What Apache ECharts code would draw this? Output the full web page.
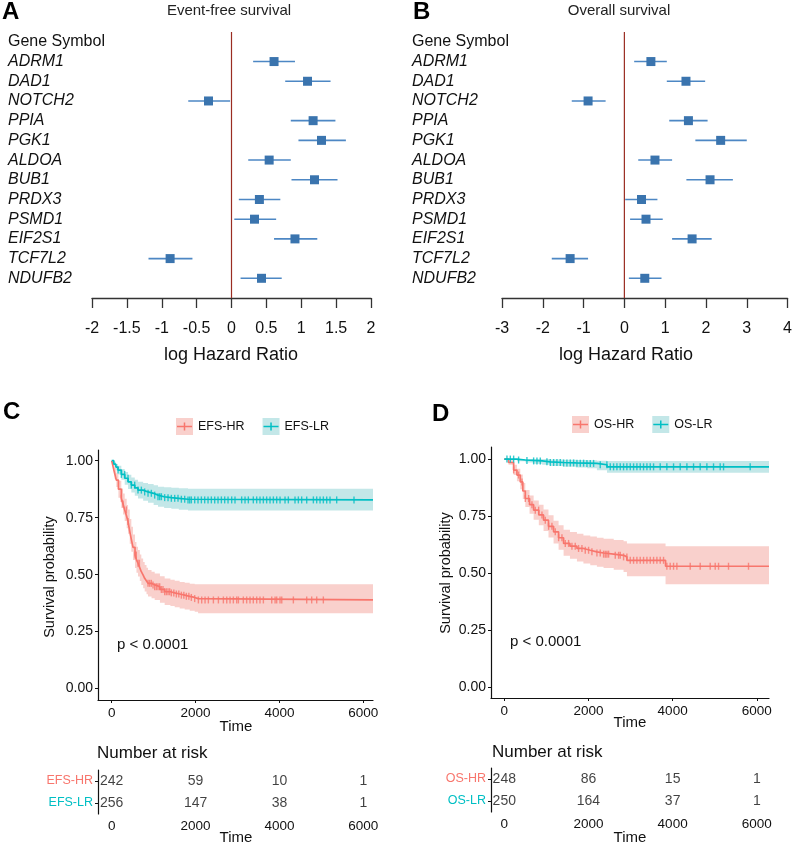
<!DOCTYPE html>
<html><head><meta charset="utf-8">
<script src="https://cdn.jsdelivr.net/npm/echarts@6/dist/echarts.min.js"></script>
<style>html,body{margin:0;padding:0;background:#fff}#c{width:795px;height:847px}</style>
</head><body><div id="c"></div>
<script>
// ---------- Forest plot data ----------
const genes = ['ADRM1','DAD1','NOTCH2','PPIA','PGK1','ALDOA','BUB1','PRDX3','PSMD1','EIF2S1','TCF7L2','NDUFB2'];
const efsLogHR = [0.61,1.09,-0.33,1.17,1.29,0.54,1.19,0.40,0.33,0.91,-0.88,0.43];
const efsLow   = [0.31,0.77,-0.62,0.85,0.96,0.24,0.86,0.105,0.04,0.61,-1.19,0.13];
const efsHigh  = [0.91,1.42,-0.02,1.49,1.64,0.85,1.52,0.70,0.64,1.23,-0.56,0.72];
const osLogHR  = [0.65,1.51,-0.89,1.57,2.36,0.75,2.10,0.42,0.53,1.66,-1.33,0.50];
const osLow    = [0.24,1.04,-1.29,1.10,1.74,0.34,1.52,0.02,0.14,1.17,-1.78,0.11];
const osHigh   = [1.04,1.98,-0.46,2.04,3.00,1.17,2.66,0.81,0.94,2.14,-0.89,0.91];

// ---------- KM: EFS ----------
const efsEnd = 6231;
const efsHRTime = [0,31,70,110,160,229,270,310,357,389,430,468,508,556,590,627,670,706,750,786,830,866,950,1025,1150,1263,1400,1502,1620,1740,1860,1979,2060];
const efsHRSurv = [1,0.975,0.945,0.915,0.875,0.835,0.81,0.784,0.755,0.733,0.69,0.655,0.62,0.586,0.565,0.55,0.53,0.513,0.498,0.484,0.472,0.462,0.455,0.447,0.435,0.425,0.42,0.415,0.41,0.405,0.40,0.395,0.389];
const efsHRLow  = [1,0.96,0.92,0.885,0.838,0.792,0.764,0.735,0.704,0.68,0.636,0.60,0.564,0.529,0.508,0.492,0.472,0.455,0.44,0.426,0.414,0.404,0.397,0.389,0.377,0.367,0.362,0.357,0.352,0.347,0.342,0.337,0.331];
const efsHRHigh = [1,0.99,0.97,0.945,0.912,0.878,0.856,0.833,0.806,0.786,0.744,0.71,0.676,0.643,0.622,0.608,0.588,0.571,0.556,0.542,0.53,0.52,0.513,0.505,0.493,0.483,0.478,0.473,0.468,0.464,0.46,0.458,0.458];
const efsHRCens = [230,270,349,389,560,587,627,660,866,905,945,985,1025,1065,1104,1144,1184,1223,1263,1303,1343,1382,1422,1481,1541,1600,1661,1720,1780,1840,1899,1979,2067,2146,2226,2305,2425,2544,2663,2743,2822,2901,2980,3021,3139,3218,3298,3377,3457,3536,3617,3816,3896,3934,4014,4055,4332,4650,4769,4888,5047];
const efsLRTime = [0,50,100,150,230,310,390,468,550,627,750,866,1000,1104,1250,1422,1600,1820];
const efsLRSurv = [1,0.985,0.972,0.959,0.94,0.923,0.907,0.893,0.881,0.871,0.863,0.857,0.849,0.842,0.838,0.835,0.831,0.828];
const efsLRLow  = [1,0.975,0.958,0.94,0.916,0.895,0.876,0.86,0.846,0.834,0.824,0.816,0.806,0.798,0.793,0.789,0.785,0.781];
const efsLRHigh = [1,0.995,0.986,0.978,0.964,0.951,0.938,0.926,0.916,0.908,0.902,0.898,0.892,0.886,0.883,0.881,0.879,0.877];
const efsLRCens = [150,230,309,389,468,548,627,707,786,866,945,1025,1104,1144,1184,1263,1343,1422,1502,1581,1661,1740,1820,1860,1899,1979,2058,2138,2217,2297,2376,2456,2535,2615,2694,2774,2861,2940,3099,3179,3258,3377,3457,3536,3616,3695,3775,3855,3934,4014,4133,4212,4371,4451,4530,4650,4809,4888,4968,5047,5127,5206,5365,5778];

// ---------- KM: OS ----------
const osEnd = 6290;
const osHRTime = [0,100,222,300,380,440,499,600,697,820,933,1050,1171,1290,1409,1560,1726,1880,2043,2200,2359,2600,2834,2914,3832];
const osHRSurv = [1,0.985,0.952,0.93,0.90,0.86,0.827,0.80,0.776,0.755,0.732,0.705,0.681,0.655,0.63,0.618,0.608,0.60,0.593,0.588,0.583,0.578,0.571,0.556,0.530];
const osHRLow  = [1,0.975,0.93,0.903,0.868,0.825,0.79,0.76,0.734,0.71,0.685,0.656,0.63,0.602,0.576,0.563,0.551,0.542,0.534,0.528,0.522,0.515,0.505,0.486,0.451];
const osHRHigh = [1,0.995,0.975,0.958,0.932,0.895,0.864,0.84,0.818,0.80,0.779,0.754,0.73,0.71,0.69,0.68,0.672,0.665,0.66,0.655,0.65,0.645,0.64,0.63,0.618];
const osHRCens = [222,340,420,499,578,657,736,816,895,974,1053,1132,1211,1291,1370,1449,1528,1607,1686,1765,1845,1924,2003,2082,2201,2280,2359,2399,2438,2478,2637,2716,2755,2834,2913,2993,3072,3151,3230,3309,3389,3468,3547,3626,3705,3784,3863,3942,4022,4101,4418,4655,4893,5012,5091,5328,5803];
const osLRTime = [0,300,500,697,900,1093,1400,1700,1964,2200,2440];
const osLRSurv = [1,0.996,0.994,0.992,0.988,0.985,0.983,0.982,0.981,0.975,0.966];
const osLRLow  = [1,0.99,0.985,0.98,0.975,0.97,0.966,0.963,0.96,0.951,0.94];
const osLRHigh = [1,1,1,1,1,0.998,0.997,0.996,0.995,0.993,0.992];
const osLRCens = [63,143,222,340,538,697,776,855,1013,1093,1172,1251,1330,1409,1488,1568,1647,1726,1805,1884,1964,2043,2122,2280,2438,2518,2597,2676,2755,2834,2913,2993,3072,3151,3230,3309,3389,3468,3547,3705,3863,4022,4180,4339,4497,4655,4814,4972,5130,5210,5843];

// ---------- Number at risk ----------
const riskTimes = [0,2000,4000,6000];
const efsRiskHR = [242,59,10,1];
const efsRiskLR = [256,147,38,1];
const osRiskHR  = [248,86,15,1];
const osRiskLR  = [250,164,37,1];
const kmTicks = [0,2000,4000,6000];
const survTicks = [0,0.25,0.5,0.75,1];

const FONT = 'Liberation Sans, Arial, sans-serif';
const RED = '#F8766D', TEAL = '#00BFC4';
const RED_BAND = '#f9d0cc', TEAL_BAND = '#c3e7e8';

function survAt(times, surv, t){ let v = surv[0]; for (let i=0;i<times.length;i++){ if (times[i] <= t) v = surv[i]; } return v; }

function forestSeries(est, lo, hi, idx){
  return [{
    type:'line', xAxisIndex:idx, yAxisIndex:idx, data:[[0,-0.5],[0,13]], symbol:'none', silent:true,
    lineStyle:{color:'#9a2d22', width:1.2}
  },{
    type:'custom', xAxisIndex:idx, yAxisIndex:idx,
    data: genes.map((g,i)=>[est[i], i+1, lo[i], hi[i]]),
    encode:{x:[0,2,3], y:1},
    renderItem:function(params, api){
      const c = api.coord([api.value(0), api.value(1)]);
      const l = api.coord([api.value(2), api.value(1)]);
      const h = api.coord([api.value(3), api.value(1)]);
      return {type:'group', children:[
        {type:'line', shape:{x1:l[0], y1:l[1], x2:h[0], y2:h[1]}, style:{stroke:'#4d87c4', lineWidth:1.6}},
        {type:'rect', shape:{x:c[0]-4.5, y:c[1]-4.5, width:9, height:9}, style:{fill:'#3a74ae'}}
      ]};
    }
  }];
}

function bandSeries(times, lo, hi, end, color, idx){
  return {
    type:'custom', xAxisIndex:idx, yAxisIndex:idx, data:[[0,1]], encode:{x:0,y:1}, silent:true, z:1,
    renderItem:function(params, api){
      const pts = [];
      for (let i=0;i<times.length;i++){ const t1 = i+1<times.length ? times[i+1] : end; pts.push(api.coord([times[i], hi[i]])); pts.push(api.coord([t1, hi[i]])); }
      for (let i=times.length-1;i>=0;i--){ const t1 = i+1<times.length ? times[i+1] : end; pts.push(api.coord([t1, lo[i]])); pts.push(api.coord([times[i], lo[i]])); }
      return {type:'polygon', shape:{points:pts}, style:{fill:color}};
    }
  };
}
function kmLine(name, times, surv, end, color, idx){
  const d = times.map((t,i)=>[t, surv[i]]); d.push([end, surv[surv.length-1]]);
  return {name:name, type:'line', step:'end', xAxisIndex:idx, yAxisIndex:idx, data:d, symbol:'none', z:3,
    lineStyle:{color:color, width:1.7}, itemStyle:{color:color}};
}
function cens(name, times, surv, ct, color, idx){
  return {name:name, type:'scatter', xAxisIndex:idx, yAxisIndex:idx, data: ct.map(t=>[t, survAt(times, surv, t)]),
    symbol:'rect', symbolSize:[1.4,7], itemStyle:{color:color}, z:4, silent:true};
}
function riskSeries(vals, row, idx){
  return {type:'scatter', xAxisIndex:idx, yAxisIndex:idx, symbolSize:1, itemStyle:{color:'rgba(0,0,0,0)'},
    data: riskTimes.map((t,i)=>[t, row, vals[i]]),
    label:{show:true, position:'inside', formatter:p=>String(p.value[2]), color:'#111', fontSize:14, fontFamily:FONT}};
}

const rows = [0].concat(genes.map((g,i)=>i+1));
function forestY(idx, margin){
  return {gridIndex:idx, type:'value', inverse:true, min:-0.5, max:13,
    axisLine:{show:false, onZero:false}, axisTick:{show:false}, splitLine:{show:false},
    axisLabel:{customValues:rows, margin:margin, align:'left',
      formatter:v=> v===0 ? '{h|Gene Symbol}' : '{g|'+genes[v-1]+'}',
      rich:{h:{fontSize:16, fontFamily:FONT, color:'#111'}, g:{fontSize:16, fontFamily:FONT, fontStyle:'italic', color:'#111'}}}};
}
function forestX(idx, min, max, interval){
  return {gridIndex:idx, type:'value', min:min, max:max, interval:interval, position:'bottom',
    axisLine:{onZero:false, lineStyle:{color:'#333', width:1.3}}, axisTick:{length:10, lineStyle:{color:'#333', width:1.3}},
    axisLabel:{fontSize:16, color:'#111', margin:23, fontFamily:FONT, formatter:v=>String(v)}, splitLine:{show:false}};
}
function kmX(idx, min, max, margin){
  return {gridIndex:idx, type:'value', min:min, max:max, position:'bottom',
    axisLine:{onZero:false, lineStyle:{color:'#111', width:1.2}},
    axisTick:{customValues:kmTicks, length:3, lineStyle:{color:'#111'}},
    axisLabel:{customValues:kmTicks, fontSize:13.5, color:'#111', margin:margin, fontFamily:FONT, formatter:v=>String(v)}, splitLine:{show:false}};
}
function kmY(idx, min, max){
  return {gridIndex:idx, type:'value', min:min, max:max, position:'left',
    axisLine:{show:true, onZero:false, lineStyle:{color:'#111', width:1.2}},
    axisTick:{show:true, customValues:survTicks, length:3, lineStyle:{color:'#111'}},
    axisLabel:{customValues:survTicks, fontSize:14, color:'#111', margin:5, fontFamily:FONT, formatter:v=>v.toFixed(2)}, splitLine:{show:false}};
}
function riskY(idx, names){
  return {gridIndex:idx, type:'category', data:names, inverse:true, position:'left',
    axisLine:{show:true, onZero:false, lineStyle:{color:'#111', width:1.2}},
    axisTick:{show:true, alignWithLabel:true, length:3, lineStyle:{color:'#111'}},
    axisLabel:{fontSize:12.5, margin:5, fontFamily:FONT, color:(v,i)=> (i===0 ? RED : TEAL)}};
}

const crossIcon = 'path://M0,0h0.01v0.01h-0.01z M16.99,16.99h0.01v0.01h-0.01z M1,7.8h15v1.5h-15z M7.75,4.5h1.5v8.1h-1.5z';
function legends(n1, n2, left, top){
  return [{
    left:left, top:top, itemWidth:17, itemHeight:17, itemGap:18, selectedMode:false,
    textStyle:{fontSize:12.5, color:'#111', fontFamily:FONT},
    data:[{name:n1, icon:'rect', itemStyle:{color:RED_BAND}},{name:n2, icon:'rect', itemStyle:{color:TEAL_BAND}}]
  },{
    left:left, top:top, itemWidth:17, itemHeight:17, itemGap:18, selectedMode:false,
    textStyle:{fontSize:12.5, color:'rgba(0,0,0,0)', fontFamily:FONT},
    data:[{name:n1, icon:crossIcon, itemStyle:{color:RED}},{name:n2, icon:crossIcon, itemStyle:{color:TEAL}}]
  }];
}

function txt(x, y, text, size, opts){
  opts = opts || {};
  return {type:'text', x:x, y:y, rotation:opts.rot||0, silent:true, style:{text:text, fontSize:size, fontFamily:FONT,
    fontWeight:opts.bold?'bold':'normal', fill:opts.color||'#111', align:opts.align||'center', verticalAlign:'middle'}};
}

const option = {
  animation:false,
  backgroundColor:'#fff',
  textStyle:{fontFamily:FONT},
  legend: legends('EFS-HR','EFS-LR',171,413).concat(legends('OS-HR','OS-LR',567,411)),
  grid:[
    {left:92, top:32, width:279, height:266},
    {left:502, top:32, width:288, height:266},
    {left:98, top:450, width:275, height:250},
    {left:491, top:447, width:278, height:251},
    {left:98, top:770, width:275, height:44},
    {left:491, top:768, width:278, height:44}
  ],
  xAxis:[
    forestX(0,-2,2,0.5), forestX(1,-3,4,1),
    kmX(2,-327,6231,6), kmX(3,-316,6290,6),
    kmX(4,-327,6231,5), kmX(5,-316,6290,5)
  ],
  yAxis:[
    forestY(0,84), forestY(1,90),
    kmY(2,-0.05,1.047), kmY(3,-0.048,1.053),
    riskY(4,['EFS-HR','EFS-LR']), riskY(5,['OS-HR','OS-LR'])
  ],
  series:[].concat(
    forestSeries(efsLogHR, efsLow, efsHigh, 0),
    forestSeries(osLogHR, osLow, osHigh, 1),
    [
      bandSeries(efsHRTime, efsHRLow, efsHRHigh, efsEnd, RED_BAND, 2),
      bandSeries(efsLRTime, efsLRLow, efsLRHigh, efsEnd, TEAL_BAND, 2),
      kmLine('EFS-HR', efsHRTime, efsHRSurv, efsEnd, RED, 2),
      kmLine('EFS-LR', efsLRTime, efsLRSurv, efsEnd, TEAL, 2),
      cens('efs-hr-c', efsHRTime, efsHRSurv, efsHRCens, RED, 2),
      cens('efs-lr-c', efsLRTime, efsLRSurv, efsLRCens, TEAL, 2),
      bandSeries(osHRTime, osHRLow, osHRHigh, osEnd, RED_BAND, 3),
      bandSeries(osLRTime, osLRLow, osLRHigh, osEnd, TEAL_BAND, 3),
      kmLine('OS-HR', osHRTime, osHRSurv, osEnd, RED, 3),
      kmLine('OS-LR', osLRTime, osLRSurv, osEnd, TEAL, 3),
      cens('os-hr-c', osHRTime, osHRSurv, osHRCens, RED, 3),
      cens('os-lr-c', osLRTime, osLRSurv, osLRCens, TEAL, 3),
      riskSeries(efsRiskHR, 0, 4), riskSeries(efsRiskLR, 1, 4),
      riskSeries(osRiskHR, 0, 5), riskSeries(osRiskLR, 1, 5)
    ]
  ),
  graphic:[
    txt(2,12,'A',24,{bold:true,align:'left',color:'#000'}),
    txt(413,12,'B',24,{bold:true,align:'left',color:'#000'}),
    txt(3,412,'C',24,{bold:true,align:'left',color:'#000'}),
    txt(432,414,'D',24,{bold:true,align:'left',color:'#000'}),
    txt(229,11,'Event-free survival',15,{color:'#222'}),
    txt(619,11,'Overall survival',15,{color:'#222'}),
    txt(231,355,'log Hazard Ratio',18),
    txt(626,355,'log Hazard Ratio',18),
    txt(50,577,'Survival probability',14.5,{rot:Math.PI/2}),
    txt(446,573,'Survival probability',14.5,{rot:Math.PI/2}),
    txt(117,645,'p < 0.0001',15,{align:'left'}),
    txt(510,642,'p < 0.0001',15,{align:'left'}),
    txt(236,727,'Time',15),
    txt(630,723,'Time',15),
    txt(97,753,'Number at risk',17,{align:'left'}),
    txt(492,752,'Number at risk',17,{align:'left'}),
    txt(236,838,'Time',15),
    txt(630,838,'Time',15)
  ]
};
const chart = echarts.init(document.getElementById('c'), null, {renderer:'canvas'});
chart.setOption(option);
</script></body></html>
